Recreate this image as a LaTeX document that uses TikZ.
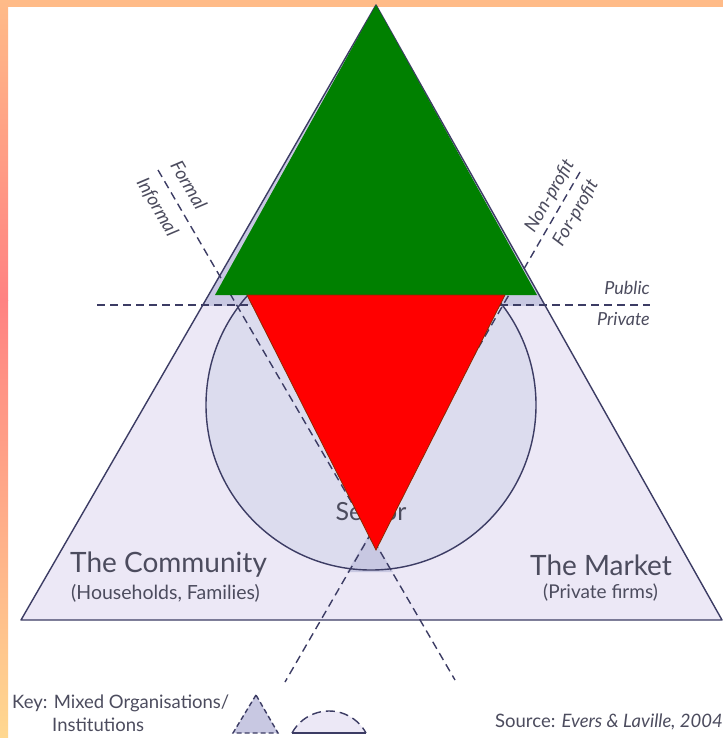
\documentclass[tikz,border=0pt]{standalone}
\usepackage{fontspec}
\setmainfont{Lato}
\usetikzlibrary{calc}
\definecolor{ink}{HTML}{3C3C64}
\definecolor{txt}{HTML}{4C4C5E}
\definecolor{lavlight}{HTML}{ECE8F6}
\definecolor{lavmid}{HTML}{DCDCEE}
\definecolor{lavdark}{HTML}{C8C8E2}
\definecolor{bordtop}{HTML}{FFBB88}
\definecolor{bordmid}{HTML}{FF8282}
\definecolor{bordbot}{HTML}{FFD890}
\definecolor{grn}{HTML}{008000}
\definecolor{rd}{HTML}{FF0000}
\definecolor{rdline}{HTML}{8B2A00}
\tikzset{
  outline/.style={draw=ink, line width=1.4pt, line join=round},
  dashline/.style={draw=ink, line width=1.4pt, dash pattern=on 8pt off 5pt},
  lbl/.style={inner sep=0pt, text=txt},
  rotlbl/.style={lbl, font=\fontsize{18.5}{18.5}\selectfont\itshape},
}
\begin{document}
\begin{tikzpicture}[x=1pt,y=-1pt]
\useasboundingbox (0,0) rectangle (723,738);
\fill[white] (0,0) rectangle (723,738);
% border
\fill[bordtop] (0,0) rectangle (723,7);
\shade[top color=bordtop, bottom color=bordmid] (0,0) rectangle (8,300);
\shade[top color=bordmid, bottom color=bordbot] (0,300) rectangle (8,738);
% named points
\coordinate (A) at (376,5);
\coordinate (BL) at (21,620);
\coordinate (BR) at (722,620);
\coordinate (C) at (371,405);
% big triangle fills
\fill[lavlight] (A) -- (BL) -- (BR) -- cycle;
\begin{scope}
  \clip (0,0) rectangle (723,305);
  \fill[lavdark] (A) -- (BL) -- (BR) -- cycle;
\end{scope}
% circle
\begin{scope}
  \clip (0,305) rectangle (723,738);
  \fill[lavmid] (C) circle (165);
\end{scope}
% small mixed triangle at bottom
\fill[lavdark] (370,533) -- (347,572) -- (393,572) -- cycle;
\draw[outline] (C) circle (165);
\draw[outline] (A) -- (BL) -- (BR) -- cycle;
% dashed division lines
\coordinate (F1) at (158,170);
\coordinate (F2) at (455,680);
\coordinate (N1) at (580,172);
\coordinate (N2) at (285,682);
\coordinate (P1) at (97,305);
\coordinate (P2) at (650,305);
\draw[dashline] (F1) -- (F2);
\draw[dashline] (N1) -- (N2);
\draw[dashline] (P1) -- (P2);
% labels
\node[rotlbl, rotate=-60] (formal) at (189,185) {Formal};
\node[rotlbl, rotate=-60] (informal) at (157,207) {Informal};
\node[rotlbl, rotate=60] (nonprofit) at (550,196) {Non-profit};
\node[rotlbl, rotate=60] (forprofit) at (576,213) {For-profit};
\node[lbl, font=\fontsize{18}{18}\selectfont\itshape, anchor=east] (public) at (650,288) {Public};
\node[lbl, font=\fontsize{18}{18}\selectfont\itshape, anchor=east] (private) at (650,319) {Private};
\node[lbl, font=\fontsize{25}{25}\selectfont] (sector) at (371,512) {Sector};
\node[lbl, font=\fontsize{28}{28}\selectfont, anchor=west] (community) at (70,565) {The Community};
\node[lbl, font=\fontsize{19.5}{19.5}\selectfont, anchor=west] (households) at (71,593) {(Households, Families)};
\node[lbl, font=\fontsize{28}{28}\selectfont, anchor=west] (market) at (530,565) {The Market};
\node[lbl, font=\fontsize{19}{19}\selectfont, anchor=west] (firms) at (543,593) {(Private firms)};
\node[lbl, font=\fontsize{18.5}{18.5}\selectfont, anchor=west] (key) at (12,703) {Key: Mixed Organisations/};
\node[lbl, font=\fontsize{18.5}{18.5}\selectfont, anchor=west] (inst) at (52,725) {Institutions};
\node[lbl, font=\fontsize{18.5}{18.5}\selectfont, anchor=east] (source) at (723,722) {Source: \textit{Evers \& Laville, 2004}};
% key shapes
\filldraw[fill=lavdark, dashline, dash pattern=on 5pt off 3pt] (256,695) -- (233,733) -- (278,733) -- cycle;
\fill[lavlight] (292,733) arc (-151.5:-28.5:42.1) -- cycle;
\draw[dashline, dash pattern=on 9pt off 5pt] (292,733) arc (-151.5:-28.5:42.1);
\draw[outline] (292,733) -- (366,733);
% overlays
\fill[grn] (A) -- (215,295) -- (537,295) -- cycle;
\filldraw[fill=rd, draw=rdline, line width=0.8pt] (247,295) -- (505,295) -- (376,550) -- cycle;
\end{tikzpicture}
\end{document}
